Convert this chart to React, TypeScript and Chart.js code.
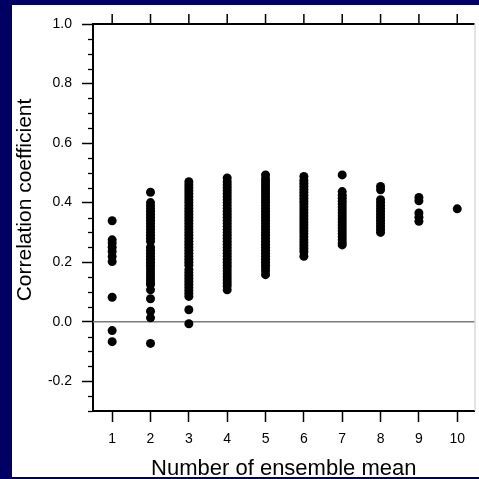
import React, { useEffect, useRef } from "react";
import { Chart, registerables } from "chart.js";

Chart.register(...registerables);

const xCategories = [1, 2, 3, 4, 5, 6, 7, 8, 9, 10];
const yTickValues = [-0.2, 0.0, 0.2, 0.4, 0.6, 0.8, 1.0];
const xTitle = "Number of ensemble mean";
const yTitle = "Correlation coefficient";

const ens1 = [0.339, 0.275, 0.264, 0.25, 0.236, 0.219, 0.202, 0.082, -0.03, -0.067];
const ens2 = [
  0.435, 0.40, 0.39, 0.38, 0.37, 0.36, 0.35, 0.34, 0.33, 0.32, 0.31, 0.30, 0.29,
  0.28, 0.27, 0.25, 0.24, 0.23, 0.22, 0.21, 0.20, 0.19, 0.18, 0.17, 0.16, 0.15,
  0.14, 0.13, 0.125, 0.107, 0.077, 0.035, 0.013, -0.073,
];
const ens3 = [
  0.47, 0.46, 0.45, 0.44, 0.43, 0.42, 0.41, 0.40, 0.39, 0.38, 0.37, 0.36, 0.35,
  0.34, 0.33, 0.32, 0.31, 0.30, 0.29, 0.28, 0.27, 0.26, 0.25, 0.24, 0.23, 0.22,
  0.21, 0.20, 0.19, 0.175, 0.165, 0.155, 0.145, 0.135, 0.125, 0.115, 0.105,
  0.095, 0.085, 0.04, -0.007,
];
const ens4 = [
  0.483, 0.47, 0.46, 0.45, 0.44, 0.43, 0.42, 0.41, 0.40, 0.39, 0.38, 0.37, 0.36,
  0.35, 0.34, 0.33, 0.32, 0.31, 0.30, 0.29, 0.28, 0.27, 0.26, 0.25, 0.24, 0.23,
  0.22, 0.21, 0.20, 0.19, 0.18, 0.17, 0.16, 0.15, 0.14, 0.13, 0.12, 0.107,
];
const ens5 = [
  0.493, 0.48, 0.47, 0.46, 0.45, 0.44, 0.43, 0.42, 0.41, 0.40, 0.39, 0.38, 0.37,
  0.36, 0.35, 0.34, 0.33, 0.32, 0.31, 0.30, 0.29, 0.28, 0.27, 0.26, 0.25, 0.24,
  0.23, 0.22, 0.21, 0.20, 0.19, 0.18, 0.17, 0.158,
];
const ens6 = [
  0.488, 0.475, 0.465, 0.455, 0.445, 0.435, 0.425, 0.415, 0.405, 0.395, 0.385,
  0.375, 0.365, 0.355, 0.345, 0.335, 0.325, 0.315, 0.305, 0.295, 0.285, 0.275,
  0.265, 0.255, 0.245, 0.235, 0.22,
];
const ens7 = [
  0.493, 0.437, 0.425, 0.415, 0.405, 0.395, 0.385, 0.375, 0.365, 0.355, 0.345,
  0.335, 0.325, 0.315, 0.305, 0.295, 0.285, 0.275, 0.265, 0.258,
];
const ens8 = [0.454, 0.443, 0.41, 0.40, 0.39, 0.38, 0.37, 0.36, 0.35, 0.34, 0.33, 0.32, 0.31, 0.30];
const ens9 = [0.417, 0.406, 0.365, 0.351, 0.337];
const ens10 = [0.379];

const columns = [ens1, ens2, ens3, ens4, ens5, ens6, ens7, ens8, ens9, ens10];

const FONT = "'Liberation Sans', Arial, Helvetica, sans-serif";

const axisDecor = {
  id: "axisDecor",
  beforeDatasetsDraw(chart: any) {
    const { ctx, chartArea, scales } = chart;
    const y = scales.y;
    const y0 = y.getPixelForValue(0);
    ctx.save();
    ctx.strokeStyle = "#7a7a7a";
    ctx.lineWidth = 1.5;
    ctx.beginPath();
    ctx.moveTo(chartArea.left, y0);
    ctx.lineTo(chartArea.right, y0);
    ctx.stroke();
    ctx.restore();
  },
  afterDraw(chart: any) {
    const { ctx, chartArea, scales } = chart;
    const x = scales.x;
    const y = scales.y;
    ctx.save();
    ctx.strokeStyle = "#000";
    ctx.lineWidth = 1.3;
    for (let k = -6; k <= 20; k++) {
      if (k % 4 === 0) continue;
      const v = k * 0.05;
      if (v < y.min - 1e-9 || v > y.max + 1e-9) continue;
      const py = Math.round(y.getPixelForValue(v)) + 0.5;
      ctx.beginPath();
      ctx.moveTo(chartArea.left - 5, py);
      ctx.lineTo(chartArea.left, py);
      ctx.stroke();
    }
    ctx.lineWidth = 2;
    ctx.beginPath();
    ctx.moveTo(chartArea.left - 1, chartArea.top);
    ctx.lineTo(chartArea.right, chartArea.top);
    ctx.stroke();
    ctx.lineWidth = 1.5;
    xCategories.forEach((c) => {
      const px = x.getPixelForValue(c);
      ctx.beginPath();
      ctx.moveTo(px, chartArea.top);
      ctx.lineTo(px, chartArea.top - 10);
      ctx.stroke();
    });
    ctx.strokeStyle = "#c8c8c8";
    ctx.lineWidth = 1;
    ctx.beginPath();
    ctx.moveTo(chartArea.right + 0.5, chartArea.top);
    ctx.lineTo(chartArea.right + 0.5, chartArea.bottom);
    ctx.stroke();
    ctx.fillStyle = "#000";
    ctx.font = `21px ${FONT}`;
    ctx.textAlign = "center";
    ctx.textBaseline = "middle";
    ctx.translate(25, 200);
    ctx.rotate(-Math.PI / 2);
    ctx.fillText(yTitle, 0, 0);
    ctx.restore();
  },
};

export default function App() {
  const ref = useRef<HTMLCanvasElement | null>(null);

  useEffect(() => {
    if (!ref.current) return;
    const points = columns.flatMap((vals, i) =>
      vals.map((v) => ({ x: xCategories[i], y: v }))
    );
    const chart = new Chart(ref.current, {
      type: "scatter",
      data: {
        datasets: [
          {
            data: points,
            backgroundColor: "#000",
            borderWidth: 0,
            pointRadius: 4.5,
            pointHoverRadius: 4.5,
          },
        ],
      },
      options: {
        animation: false,
        responsive: false,
        devicePixelRatio: 1,
        events: [],
        layout: { padding: { top: 24, right: 1, left: 0, bottom: 0 } },
        plugins: {
          legend: { display: false },
          tooltip: { enabled: false },
          title: { display: false },
        },
        scales: {
          x: {
            type: "linear",
            min: 0.5,
            max: 10.45,
            afterBuildTicks: (s: any) => {
              s.ticks = xCategories.map((v) => ({ value: v }));
            },
            afterFit: (s: any) => {
              s.height = 68;
            },
            grid: {
              display: true,
              drawOnChartArea: false,
              drawTicks: true,
              tickLength: 11,
              tickColor: "#000",
              tickWidth: 1.5,
            },
            border: { display: true, color: "#000", width: 2 },
            ticks: {
              color: "#000",
              padding: 9,
              maxRotation: 0,
              font: { family: FONT, size: 14 },
              callback: (v: any) => String(v),
            },
            title: {
              display: true,
              text: xTitle,
              color: "#000",
              font: { family: FONT, size: 22 },
              padding: { top: 0, bottom: -3 },
            },
          },
          y: {
            type: "linear",
            min: -0.3,
            max: 1.0,
            afterBuildTicks: (s: any) => {
              s.ticks = yTickValues.map((v) => ({ value: v }));
            },
            afterFit: (s: any) => {
              s.width = 93;
            },
            grid: {
              display: true,
              drawOnChartArea: false,
              drawTicks: true,
              tickLength: 11,
              tickColor: "#000",
              tickWidth: 1.5,
            },
            border: { display: true, color: "#000", width: 2 },
            ticks: {
              color: "#000",
              padding: 10,
              font: { family: FONT, size: 14 },
              callback: (v: any) => Number(v).toFixed(1),
            },
          },
        },
      },
      plugins: [axisDecor],
    });
    return () => chart.destroy();
  }, []);

  return (
    <div
      style={{
        position: "fixed",
        left: 0,
        top: 0,
        width: "100vw",
        height: "100vh",
        background: "#000064",
        overflow: "hidden",
      }}
    >
      <div
        style={{
          position: "absolute",
          left: 12,
          top: 5,
          right: -10,
          bottom: 2,
          background: "#fff",
        }}
      />
      <canvas
        ref={ref}
        width={479}
        height={479}
        style={{ position: "absolute", left: 0, top: 0, width: 479, height: 479 }}
      />
    </div>
  );
}
